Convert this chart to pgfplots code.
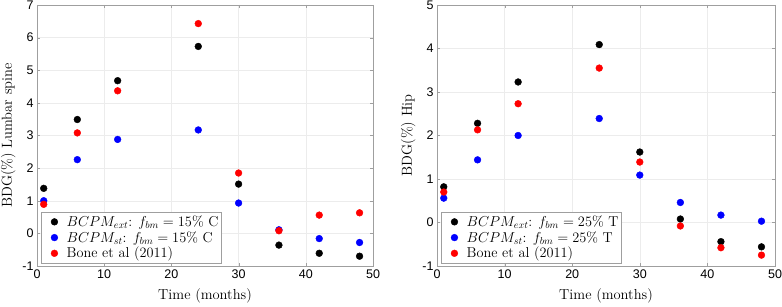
\documentclass[border=0pt]{standalone}
\usepackage{fontspec}
\usepackage{pgfplots}
\pgfplotsset{compat=1.18}
\newfontfamily\ticksans{Liberation Sans}
\begin{document}
\begin{tikzpicture}
\path[use as bounding box] (0pt,0pt) rectangle (782pt,307pt);
\pgfplotsset{
 myax/.style={scale only axis, height=261pt, ymin=-1, xmin=0, xmax=50,
  xtick={0,10,...,50}, grid=major, grid style={gray!15},
  axis line style={gray!75}, tick style={gray!75}, tick align=inside, major tick length=3pt,
  tick label style={font=\fontsize{12.5}{14}\ticksans},
  /pgf/number format/assume math mode=true,
  label style={font=\fontsize{14.5}{17}\selectfont},
  xlabel style={yshift=-3pt},
  xlabel={Time (months)},
  legend style={font=\fontsize{14.3}{16}\selectfont, draw=gray!75, at={(0.012,0.011)}, anchor=south west,
    row sep=-0.5pt, inner xsep=1pt, inner ysep=1.5pt},
  legend image code/.code={\path (0pt,0pt) (22pt,0pt); \draw[#1] plot coordinates {(12pt,0pt)};},
  legend cell align=left},
 dots/.style={only marks, mark=*, mark size=3.4pt, draw=#1, fill=#1, mark options={draw=#1, fill=#1}}
}
\begin{axis}[myax, at={(37pt,41pt)}, anchor=south west, width=336pt, ymax=7, ytick={-1,0,...,7},
  ylabel={BDG(\%) Lumbar spine}]
\addplot[dots=black] coordinates {(1,1.38) (6,3.49) (12,4.68) (24,5.73) (30,1.51) (36,-0.36) (42,-0.61) (48,-0.70)};
\addlegendentry{$BCPM_{ext}$: $f_{bm}=15\%$ C}
\addplot[dots=blue] coordinates {(1,1.00) (6,2.26) (12,2.88) (24,3.17) (30,0.93) (36,0.11) (42,-0.16) (48,-0.28)};
\addlegendentry{$BCPM_{st}$: $f_{bm}=15\%$ C}
\addplot[dots=red] coordinates {(1,0.89) (6,3.08) (12,4.37) (24,6.43) (30,1.85) (36,0.08) (42,0.56) (48,0.63)};
\addlegendentry{Bone et al (2011)}
\end{axis}
\begin{axis}[myax, at={(437pt,41pt)}, anchor=south west, width=338pt, ymax=5, ytick={-1,0,...,5},
  ylabel={BDG(\%) Hip}]
\addplot[dots=black] coordinates {(1,0.82) (6,2.28) (12,3.23) (24,4.09) (30,1.62) (36,0.08) (42,-0.44) (48,-0.56)};
\addlegendentry{$BCPM_{ext}$: $f_{bm}=25\%$ T}
\addplot[dots=blue] coordinates {(1,0.56) (6,1.44) (12,2.00) (24,2.39) (30,1.09) (36,0.46) (42,0.17) (48,0.03)};
\addlegendentry{$BCPM_{st}$: $f_{bm}=25\%$ T}
\addplot[dots=red] coordinates {(1,0.70) (6,2.13) (12,2.73) (24,3.55) (30,1.39) (36,-0.08) (42,-0.58) (48,-0.75)};
\addlegendentry{Bone et al (2011)}
\end{axis}
\end{tikzpicture}
\end{document}
